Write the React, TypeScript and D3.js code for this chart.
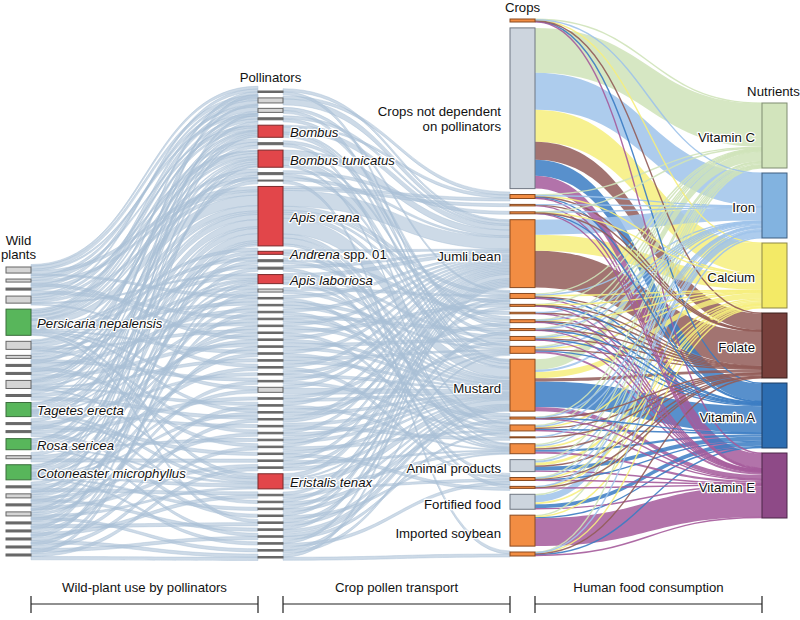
import React from 'react';
import * as d3 from 'd3';

const W = 800;
const H = 620;
const FONT = '"Liberation Sans", Arial, Helvetica, sans-serif';
const NODE_W = 25;

type Link = [number, number, number];
interface Box { y0: number; y1: number; }

// ---- nodes (top to bottom), heights in value units ----
const wildHeights = [6, 3, 2, 7, 26, 8, 3, 2, 2, 8, 2, 14, 2, 2, 11, 3, 15, 2, 4, 2, 4, 2, 2, 2, 2, 2];
const wildLabels: [number, string][] = [
  [4, 'Persicaria nepalensis'],
  [11, 'Tagetes erecta'],
  [14, 'Rosa sericea'],
  [16, 'Cotoneaster microphyllus'],
];

const pollinatorHeights = [
  1.5, 5, 4, 2, 12, 2, 17, 2, 1, 59, 3, 2, 2, 9, 3,
  1.5, 1.5, 1.5, 1.5, 1.5, 1.5, 1.5, 1.5, 1.5, 1.5, 1.5, 1.5, 1.5,
  5,
  1.5, 1.5, 1.5, 1.5, 1.5, 1.5, 1.5, 1.5, 1.5, 1.5, 1.5,
  15,
  1.5, 1.5, 1.5, 1.5, 1.5, 1.5, 1.5, 1.5, 1.5, 1.5,
];
const pollinatorLabels: [number, string][] = [
  [4, 'Bombus'],
  [6, 'Bombus tunicatus'],
  [9, 'Apis cerana'],
  [10, 'Andrena spp. 01'],
  [13, 'Apis laboriosa'],
  [40, 'Eristalis tenax'],
];

const cropHeights = [3, 161, 4, 1.5, 2, 68, 5, 2, 1.5, 3, 2, 4, 7, 52, 2, 6, 1, 10, 12, 3, 2, 15, 31, 4];
const cropLabels: [number, string[]][] = [
  [1, ['Crops not dependent', 'on pollinators']],
  [5, ['Jumli bean']],
  [13, ['Mustard']],
  [18, ['Animal products']],
  [21, ['Fortified food']],
  [22, ['Imported soybean']],
];
const cropsNotDependent = [1, 18, 21];

const nutrientNames = ['Vitamin C', 'Iron', 'Calcium', 'Folate', 'Vitamin A', 'Vitamin E'];
const nutrientHeights = [65, 65, 65, 65, 65, 65];
const nutrientFill = ['#d2e4bc', '#82b3e0', '#f3ea66', '#773f3b', '#2c6db1', '#8e4a87'];
const nutrientStroke = ['#7f8c70', '#3e5f80', '#8d8744', '#3c201d', '#1c3f66', '#4d2648'];
const nutrientLink = ['#cfe3b9', '#9fc3ea', '#f6ee7c', '#925c58', '#3b7cc3', '#a55b9b'];

const stageLabels = ['Wild-plant use by pollinators', 'Crop pollen transport', 'Human food consumption'];

// ---- links: [source, target, value] ----
const wildToPollinator: Link[] = [
  [0, 0, 1], [0, 1, 2], [0, 3, 1], [0, 9, 2], [0, 15, 1],
  [1, 2, 1], [1, 4, 1], [1, 9, 1], [1, 21, 1],
  [2, 1, 1], [2, 6, 1], [2, 18, 1],
  [3, 0, 1], [3, 4, 2], [3, 6, 2], [3, 9, 2], [3, 13, 1], [3, 25, 1],
  [4, 1, 2], [4, 2, 2], [4, 3, 1], [4, 4, 3], [4, 5, 1], [4, 6, 3], [4, 7, 1], [4, 8, 1], [4, 9, 6], [4, 10, 1],
  [4, 11, 1], [4, 13, 2], [4, 16, 1], [4, 19, 1], [4, 23, 1], [4, 28, 1], [4, 31, 1], [4, 40, 2], [4, 45, 1],
  [5, 3, 1], [5, 6, 2], [5, 9, 3], [5, 14, 1], [5, 20, 1], [5, 34, 1],
  [6, 5, 1], [6, 9, 1], [6, 12, 1], [6, 27, 1],
  [7, 4, 1], [7, 17, 1], [7, 36, 1],
  [8, 7, 1], [8, 9, 1], [8, 22, 1],
  [9, 0, 1], [9, 4, 1], [9, 6, 1], [9, 9, 3], [9, 13, 1], [9, 24, 1], [9, 30, 1], [9, 40, 1],
  [10, 2, 1], [10, 15, 1], [10, 32, 1],
  [11, 1, 1], [11, 4, 2], [11, 6, 2], [11, 9, 4], [11, 10, 1], [11, 13, 1], [11, 18, 1], [11, 26, 1], [11, 33, 1],
  [11, 40, 2], [11, 42, 1],
  [12, 5, 1], [12, 21, 1], [12, 37, 1],
  [13, 9, 1], [13, 29, 1], [13, 44, 1],
  [14, 3, 1], [14, 4, 2], [14, 6, 2], [14, 9, 3], [14, 14, 1], [14, 20, 1], [14, 35, 1], [14, 40, 1], [14, 47, 1],
  [15, 8, 1], [15, 25, 1], [15, 38, 1],
  [16, 0, 1], [16, 4, 2], [16, 6, 2], [16, 9, 4], [16, 11, 1], [16, 13, 1], [16, 19, 1], [16, 28, 1], [16, 31, 1],
  [16, 40, 2], [16, 43, 1], [16, 48, 1],
  [17, 7, 1], [17, 23, 1], [17, 41, 1],
  [18, 2, 1], [18, 9, 1], [18, 16, 1], [18, 34, 1], [18, 46, 1],
  [19, 12, 1], [19, 27, 1], [19, 39, 1],
  [20, 4, 1], [20, 9, 1], [20, 22, 1], [20, 40, 1], [20, 49, 1],
  [21, 10, 1], [21, 30, 1], [21, 45, 1],
  [22, 6, 1], [22, 17, 1], [22, 41, 1],
  [23, 9, 1], [23, 32, 1], [23, 50, 1],
  [24, 14, 1], [24, 36, 1], [24, 47, 1],
  [25, 13, 1], [25, 39, 1], [25, 50, 1],
];

const pollinatorToCrop: Link[] = [
  [0, 5, 1], [0, 13, 1],
  [1, 5, 2], [1, 2, 1],
  [2, 13, 1], [2, 6, 1],
  [3, 5, 1], [3, 10, 1],
  [4, 5, 3], [4, 13, 2], [4, 2, 1], [4, 12, 1],
  [5, 9, 1], [5, 15, 1],
  [6, 5, 4], [6, 13, 3], [6, 11, 1], [6, 17, 1],
  [7, 4, 1], [7, 13, 1],
  [8, 5, 1], [8, 23, 1],
  [9, 2, 1], [9, 3, 1], [9, 5, 8], [9, 6, 2], [9, 7, 1], [9, 9, 1], [9, 12, 2], [9, 13, 8], [9, 15, 2],
  [9, 17, 3], [9, 20, 1],
  [10, 5, 1], [10, 16, 1],
  [11, 13, 1], [11, 8, 1],
  [12, 5, 1], [12, 19, 1],
  [13, 5, 2], [13, 13, 2], [13, 14, 1], [13, 11, 1],
  [14, 13, 1], [14, 6, 1],
  [15, 5, 1], [15, 17, 1],
  [16, 13, 1], [16, 12, 1],
  [17, 5, 1], [17, 15, 1],
  [18, 13, 1], [18, 10, 1],
  [19, 5, 1], [19, 13, 1],
  [20, 7, 1], [20, 17, 1],
  [21, 13, 1], [21, 5, 1],
  [22, 13, 1], [22, 11, 1],
  [23, 5, 1], [23, 14, 1],
  [24, 12, 1], [24, 13, 1],
  [25, 5, 1], [25, 19, 1],
  [26, 13, 1], [26, 6, 1],
  [27, 5, 1], [27, 15, 1],
  [28, 13, 2], [28, 5, 1],
  [29, 13, 1], [29, 9, 1],
  [30, 5, 1], [30, 17, 1],
  [31, 13, 1], [31, 12, 1],
  [32, 5, 1], [32, 6, 1],
  [33, 13, 1], [33, 16, 1],
  [34, 5, 1], [34, 13, 1],
  [35, 11, 1], [35, 13, 1],
  [36, 5, 1], [36, 15, 1],
  [37, 13, 1], [37, 20, 1],
  [38, 5, 1], [38, 17, 1],
  [39, 13, 1], [39, 7, 1],
  [40, 5, 3], [40, 13, 4], [40, 12, 1], [40, 17, 2], [40, 19, 1],
  [41, 13, 1], [41, 5, 1],
  [42, 5, 1], [42, 14, 1],
  [43, 13, 1], [43, 6, 1],
  [44, 5, 1], [44, 17, 1],
  [45, 13, 1], [45, 10, 1],
  [46, 5, 1], [46, 13, 1],
  [47, 13, 1], [47, 15, 1],
  [48, 5, 1], [48, 19, 1],
  [49, 13, 1], [49, 12, 1],
  [50, 5, 1], [50, 23, 1],
];

const cropToNutrient: Link[] = [
  [0, 0, 0.5], [0, 1, 0.5], [0, 2, 0.5], [0, 3, 0.5], [0, 4, 0.5], [0, 5, 0.5],
  [1, 0, 45], [1, 1, 37], [1, 2, 32], [1, 3, 18], [1, 4, 16], [1, 5, 13],
  [2, 0, 0.7], [2, 1, 0.7], [2, 2, 0.7], [2, 3, 0.7], [2, 4, 0.6], [2, 5, 0.6],
  [3, 1, 0.5], [3, 3, 0.5], [3, 5, 0.5],
  [4, 0, 0.4], [4, 1, 0.4], [4, 2, 0.3], [4, 3, 0.3], [4, 4, 0.3], [4, 5, 0.3],
  [5, 1, 15], [5, 2, 16], [5, 3, 37],
  [6, 0, 1], [6, 1, 1], [6, 2, 1], [6, 3, 0.7], [6, 4, 0.7], [6, 5, 0.6],
  [7, 0, 0.4], [7, 2, 0.4], [7, 3, 0.4], [7, 4, 0.4], [7, 5, 0.4],
  [8, 1, 0.5], [8, 3, 0.5], [8, 5, 0.5],
  [9, 0, 0.5], [9, 1, 0.5], [9, 2, 0.5], [9, 3, 0.5], [9, 4, 0.5], [9, 5, 0.5],
  [10, 0, 0.4], [10, 1, 0.4], [10, 3, 0.4], [10, 4, 0.4], [10, 5, 0.4],
  [11, 0, 0.7], [11, 1, 0.7], [11, 2, 0.7], [11, 3, 0.7], [11, 4, 0.6], [11, 5, 0.6],
  [12, 0, 1], [12, 1, 1], [12, 2, 1], [12, 3, 1], [12, 4, 1], [12, 5, 2],
  [13, 0, 10], [13, 1, 2], [13, 2, 6], [13, 3, 3], [13, 4, 24], [13, 5, 4],
  [14, 0, 0.4], [14, 1, 0.4], [14, 3, 0.4], [14, 4, 0.4], [14, 5, 0.4],
  [15, 0, 1], [15, 1, 1], [15, 2, 1], [15, 3, 1], [15, 4, 1], [15, 5, 1],
  [16, 1, 0.5], [16, 3, 0.5],
  [17, 0, 1.5], [17, 1, 1.5], [17, 2, 1.5], [17, 3, 1.5], [17, 4, 2], [17, 5, 2],
  [18, 0, 1], [18, 1, 2], [18, 2, 3], [18, 3, 1], [18, 4, 4], [18, 5, 1],
  [19, 0, 0.5], [19, 1, 0.5], [19, 2, 0.5], [19, 3, 0.5], [19, 4, 0.5], [19, 5, 0.5],
  [20, 1, 0.5], [20, 2, 0.5], [20, 3, 0.5], [20, 5, 0.5],
  [21, 0, 1], [21, 1, 7], [21, 2, 2], [21, 4, 4], [21, 5, 1],
  [22, 0, 1], [22, 2, 1], [22, 4, 1], [22, 5, 28],
  [23, 0, 0.5], [23, 1, 0.5], [23, 2, 0.5], [23, 3, 0.5], [23, 4, 1], [23, 5, 1],
];

// ---- layout helpers ----
const colX = d3.scaleLinear().domain([0, 3]).range([6, 762]);

function layoutColumn(heights: number[], top: number, bottom: number, gap: number): Box[] {
  const total = d3.sum(heights);
  const y = d3.scaleLinear().domain([0, total]).range([top, bottom - gap * (heights.length - 1)]);
  let acc = 0;
  return heights.map((h, i) => {
    const y0 = y(acc) + i * gap;
    acc += h;
    return { y0, y1: y(acc) + i * gap };
  });
}

const mid = (b: Box) => (b.y0 + b.y1) / 2;

// band of every link at one end; tall nodes are filled, thin nodes get a small fan
function linkEnds(links: Link[], nodes: Box[], others: Box[], side: 0 | 1, k: number, cap: number) {
  const out: [number, number][] = links.map(() => [0, 0]);
  const other = side === 0 ? 1 : 0;
  const groups = d3.group(d3.range(links.length), (i) => links[i][side]);
  groups.forEach((idx, n) => {
    idx.sort((a, b) => mid(others[links[a][other]]) - mid(others[links[b][other]]));
    const node = nodes[n];
    const h = node.y1 - node.y0;
    const total = d3.sum(idx, (i) => links[i][2]);
    const band = Math.max(h, Math.min(total * k, cap));
    const s = d3.scaleLinear().domain([0, total]).range([mid(node) - band / 2, mid(node) + band / 2]);
    let acc = 0;
    idx.forEach((i) => {
      out[i] = [s(acc), s(acc + links[i][2])];
      acc += links[i][2];
    });
  });
  return out;
}

function ribbon(x0: number, a: [number, number], x1: number, b: [number, number]) {
  const xm = (x0 + x1) / 2;
  const p = d3.path();
  p.moveTo(x0, a[0]);
  p.bezierCurveTo(xm, a[0], xm, b[0], x1, b[0]);
  p.lineTo(x1, b[1]);
  p.bezierCurveTo(xm, b[1], xm, a[1], x0, a[1]);
  p.closePath();
  return p.toString();
}

const centerLine = d3.linkHorizontal<[[number, number], [number, number]], [number, number]>()
  .source((d) => d[0])
  .target((d) => d[1]);

interface Drawn { d: string; thin: boolean; width: number; color: string; }

function buildLinks(
  links: Link[], src: Box[], tgt: Box[], col: number,
  k: number, cap: number, thinBelow: number, colorOf: (l: Link) => string,
): Drawn[] {
  const s = linkEnds(links, src, tgt, 0, k, cap);
  const t = linkEnds(links, tgt, src, 1, k, cap);
  const x0 = colX(col) + NODE_W;
  const x1 = colX(col + 1);
  return links.map((l, i) => {
    const ws = s[i][1] - s[i][0];
    const wt = t[i][1] - t[i][0];
    const thin = Math.max(ws, wt) < thinBelow;
    const d = thin
      ? (centerLine([[x0, (s[i][0] + s[i][1]) / 2], [x1, (t[i][0] + t[i][1]) / 2]]) as string)
      : ribbon(x0, s[i], x1, t[i]);
    return { d, thin, width: (ws + wt) / 2, color: colorOf(l) };
  });
}

const wildNodes = layoutColumn(wildHeights, 267, 556, 6);
const pollinatorNodes = layoutColumn(pollinatorHeights, 91, 558, 5.4);
const cropNodes = layoutColumn(cropHeights, 19, 556, 5.9);
const nutrientNodes = layoutColumn(nutrientHeights, 103, 518, 5);

const MESH = '#a9bfd6';

const App: React.FC = () => {
  const stage1 = buildLinks(wildToPollinator, wildNodes, pollinatorNodes, 0, 3.2, 11, 0, () => MESH);
  const stage2 = buildLinks(pollinatorToCrop, pollinatorNodes, cropNodes, 1, 3, 11, 0, () => MESH);
  const stage3 = buildLinks(cropToNutrient, cropNodes, nutrientNodes, 2, 0, 0, 1.3, (l) => nutrientLink[l[1]])
    .sort((a, b) => b.width - a.width);

  const wildLabelMap = new Map(wildLabels);
  const pollLabelMap = new Map(pollinatorLabels);

  const halo = {
    stroke: '#fff',
    strokeWidth: 2.5,
    strokeLinejoin: 'round' as const,
    paintOrder: 'stroke' as const,
  };

  const renderLink = (l: Drawn, i: number, mesh: boolean) =>
    l.thin ? (
      <path key={i} d={l.d} fill="none" stroke={l.color} strokeWidth={1.4} strokeOpacity={0.9} />
    ) : mesh ? (
      <path key={i} d={l.d} fill={l.color} fillOpacity={0.58} stroke={l.color} strokeWidth={0.8} strokeOpacity={0.58} />
    ) : (
      <path key={i} d={l.d} fill={l.color} fillOpacity={0.85} />
    );

  const nodeRect = (x: number, b: Box, fill: string, stroke: string, key: string) => {
    const h = b.y1 - b.y0;
    return (
      <rect key={key} x={x} y={b.y0} width={NODE_W} height={Math.max(h, 1)}
        fill={h < 3 && stroke === '#666' ? '#6a6a6a' : fill} stroke={stroke} strokeWidth={1} />
    );
  };

  const brackets = [0, 1, 2].map((i) => {
    const xa = colX(i) + NODE_W;
    const xb = colX(i + 1);
    return { xa, xb, label: stageLabels[i] };
  });

  return (
    <svg width={W} height={H} viewBox={`0 0 ${W} ${H}`}
      style={{ position: 'absolute', left: 0, top: 0, display: 'block', background: '#fff' }}
      fontFamily={FONT} fontSize={13.2}>
      <g>{stage1.map((l, i) => renderLink(l, i, true))}</g>
      <g>{stage2.map((l, i) => renderLink(l, i, true))}</g>
      <g>{stage3.map((l, i) => renderLink(l, i, false))}</g>

      <g>
        {wildNodes.map((b, i) => wildLabelMap.has(i)
          ? nodeRect(colX(0), b, '#58b65b', '#3b6e3c', `w${i}`)
          : nodeRect(colX(0), b, '#d5d5d5', '#666', `w${i}`))}
        {pollinatorNodes.map((b, i) => pollLabelMap.has(i)
          ? nodeRect(colX(1), b, '#e2464a', '#7b2a2b', `p${i}`)
          : nodeRect(colX(1), b, '#d5d5d5', '#666', `p${i}`))}
        {cropNodes.map((b, i) => cropsNotDependent.includes(i)
          ? nodeRect(colX(2), b, '#cdd5de', '#6f7782', `c${i}`)
          : nodeRect(colX(2), b, '#f28d43', '#8a4b21', `c${i}`))}
        {nutrientNodes.map((b, i) => nodeRect(colX(3), b, nutrientFill[i], nutrientStroke[i], `n${i}`))}
      </g>

      {/* labels */}
      <g fill="#111">
        {wildLabels.map(([i, name]) => (
          <text key={name} x={colX(0) + NODE_W + 6} y={mid(wildNodes[i]) + 1} dominantBaseline="central"
            fontStyle="italic" {...halo}>{name}</text>
        ))}
        {pollinatorLabels.map(([i, name]) => {
          const parts = name.split(' spp.');
          return (
            <text key={name} x={colX(1) + NODE_W + 7} y={mid(pollinatorNodes[i]) + 1} dominantBaseline="central" {...halo}>
              <tspan fontStyle="italic">{parts[0]}</tspan>
              {parts.length > 1 ? <tspan>{' spp.' + parts[1]}</tspan> : null}
            </text>
          );
        })}
        {cropLabels.map(([i, lines]) => (
          <text key={lines[0]} x={colX(2) - 9} textAnchor="end" dominantBaseline="central" {...halo}>
            {lines.map((ln, j) => (
              <tspan key={ln} x={colX(2) - 9} y={mid(cropNodes[i]) + 2.5 + j * 15.5}>{ln}</tspan>
            ))}
          </text>
        ))}
        {nutrientNames.map((name, i) => (
          <text key={name} x={colX(3) - 7} y={mid(nutrientNodes[i]) + 1.5} textAnchor="end"
            dominantBaseline="central" {...halo}>{name}</text>
        ))}
      </g>

      {/* column headers */}
      <g fill="#111" textAnchor="middle">
        <text x={colX(0) + NODE_W / 2} y={240} dominantBaseline="central">Wild</text>
        <text x={colX(0) + NODE_W / 2} y={254} dominantBaseline="central">plants</text>
        <text x={colX(1) + NODE_W / 2} y={77} dominantBaseline="central">Pollinators</text>
        <text x={colX(2) + NODE_W / 2} y={7} dominantBaseline="central">Crops</text>
        <text x={colX(3) + NODE_W / 2 - 1} y={91} dominantBaseline="central">Nutrients</text>
      </g>

      {/* stage brackets */}
      <g>
        {brackets.map((b) => (
          <g key={b.label}>
            <text x={(b.xa + b.xb) / 2} y={587} textAnchor="middle" dominantBaseline="central" fill="#111">
              {b.label}
            </text>
            <path d={`M${b.xa},596V613M${b.xa},604H${b.xb}M${b.xb},596V613`} fill="none" stroke="#222" strokeWidth={1.2} />
          </g>
        ))}
      </g>
    </svg>
  );
};

export default App;
